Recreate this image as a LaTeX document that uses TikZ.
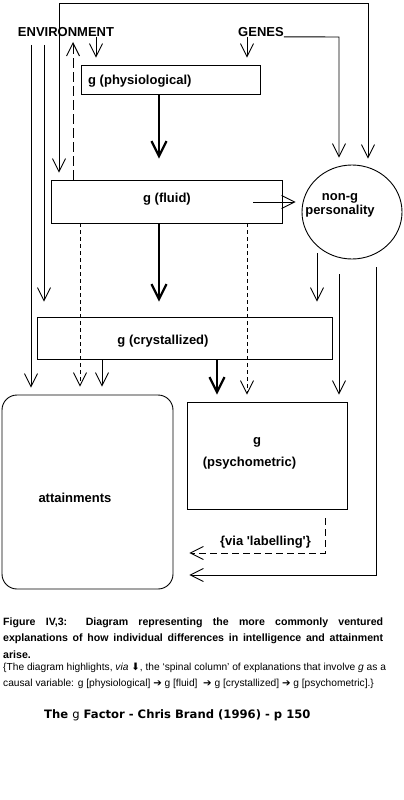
\documentclass[tikz,border=0pt]{standalone}
\usepackage{fontspec}
\setmainfont{Liberation Sans}
\newfontfamily\dejavu{DejaVu Sans}
\usetikzlibrary{arrows.meta,shapes.geometric}
\begin{document}
\begin{tikzpicture}[x=1pt,y=-1pt,
  lbl/.style={font=\fontsize{13}{14}\selectfont\bfseries, inner sep=0pt},
  box/.style={draw, line width=0.9pt, inner sep=0pt},
  arr/.style={line width=0.9pt, -{Straight Barb[length=13pt,width=13pt]}},
  arrtwo/.style={line width=0.9pt, {Straight Barb[length=13pt,width=13pt]}-{Straight Barb[length=13pt,width=13pt]}},
  tarr/.style={line width=2.2pt, -{Straight Barb[length=15pt,width=15pt]}},
  dsh/.style={dash pattern=on 4pt off 3pt},
  capb/.style={anchor=west, inner sep=0pt, font=\fontsize{10.6}{11}\selectfont\bfseries},
  capr/.style={anchor=west, inner sep=0pt, font=\fontsize{10.2}{11}\selectfont},
]
\useasboundingbox (0,0) rectangle (404,800);

% nodes
\node[lbl] (env) at (66,32) {ENVIRONMENT};
\node[lbl] (genes) at (261,32) {GENES};
\node[box, minimum width=179pt, minimum height=29pt] (phys) at (170.5,79.5) {};
\node[lbl, anchor=west] (physt) at (88,81) {g (physiological)};
\node[box, minimum width=231pt, minimum height=43pt] (fluid) at (166.5,201.5) {};
\node[lbl] (fluidt) at (167,199) {g (fluid)};
\node[draw, ellipse, line width=0.9pt, minimum width=100pt, minimum height=94pt, inner sep=0pt] (pers) at (352,212) {};
\node[lbl, align=center] (perst) at (340,205) {non-g\\personality};
\node[box, minimum width=295pt, minimum height=42pt] (cryst) at (184.5,338) {};
\node[lbl] (crystt) at (163,341) {g (crystallized)};
\node[box, rounded corners=15pt, minimum width=171pt, minimum height=194pt] (attain) at (87.5,492) {};
\node[lbl] (attaint) at (75,498) {attainments};
\node[box, minimum width=160pt, minimum height=107pt] (psy) at (267,455.5) {};
\node[lbl] (psyg) at (257,442) {g};
\node[lbl] (psyt) at (249.5,463) {(psychometric)};
\node[lbl] (via) at (265.5,542) {\{via \textquotesingle labelling\textquotesingle\}};

% column coordinates
\coordinate (cA) at (31,45);
\coordinate (cB) at (44,45);
\coordinate (topL) at (59,3);
\coordinate (topR) at (368,3);
\coordinate (cD) at (73,42);
\coordinate (cE) at (96,0);
\coordinate (cF) at (247,0);
\coordinate (cG) at (80,0);
\coordinate (sp) at (159,0);
\coordinate (cH) at (102,0);
\coordinate (cI) at (217,0);
\coordinate (g2) at (339,37);
\coordinate (fp) at (253,202);
\coordinate (p1) at (317,253);
\coordinate (p2) at (339,274);
\coordinate (p3) at (376,267);
\coordinate (p3b) at (376,575);
\coordinate (q) at (325,553);

% connectors
\draw[arrtwo, shorten <=7pt, shorten >=6pt] (fluid.north -| topL) -- (topL) -- (topR) -- (pers.north -| topR);
\draw[arr, shorten >=15pt] (cB) -- (cB |- cryst.north);
\draw[arr, shorten >=7pt] (cA) -- (cA |- attain.north);
\draw[arr, dash pattern=on 10pt off 4pt] (fluid.north -| cD) -- (cD);
\draw[arr, shorten >=7pt] (env.south -| cE) -- (phys.north -| cE);
\draw[arr, shorten >=7pt] (genes.south -| cF) -- (phys.north -| cF);
\draw[arr, shorten >=7pt] (genes.south east) -- (g2) -- (g2 |- pers.north);
\draw[tarr, shorten >=21pt] (phys.south -| sp) -- (fluid.north -| sp);
\draw[arr, shorten >=6pt] (fp) -- (fp -| pers.west);
\draw[arr, dsh, shorten >=8pt] (fluid.south -| cG) -- (attain.north -| cG);
\draw[arr, dsh, shorten >=7pt] (fluid.south -| cF) -- (psy.north -| cF);
\draw[tarr, shorten >=15pt] (fluid.south -| sp) -- (cryst.north -| sp);
\draw[arr, shorten >=15pt] (p1) -- (p1 |- cryst.north);
\draw[arr, shorten >=8pt] (cryst.south -| cH) -- (attain.north -| cH);
\draw[tarr, shorten >=7pt] (cryst.south -| cI) -- (psy.north -| cI);
\draw[arr, shorten >=7pt] (p2) -- (p2 |- psy.north);
\draw[arr, shorten >=16pt] (p3) -- (p3b) -- (p3b -| attain.east);
\draw[arr, dash pattern=on 7pt off 4pt, shorten <=9pt, shorten >=16pt] (psy.south -| q) -- (q) -- (q -| attain.east);

% caption
\node[capb] (cap1) at (3,623) {\makebox[380pt][s]{Figure IV,3: Diagram representing the more commonly ventured}};
\node[capb] (cap2) at (3,639) {\makebox[380pt][s]{explanations of how individual differences in intelligence and attainment}};
\node[capb] (cap3) at (3,655) {arise.};
\node[capr] (cap4) at (3,668) {\{The diagram highlights, \textit{via} {\dejavu ⬇}, the ‘spinal column’ of explanations that involve \textit{g} as a};
\node[capr] (cap5) at (3,684) {causal variable: g [physiological] {\dejavu ➔} g [fluid] \ {\dejavu ➔} g [crystallized] {\dejavu ➔} g [psychometric].\}};
\node[anchor=west, inner sep=0pt, font=\dejavu\fontsize{11.6}{13}\selectfont\bfseries] (src) at (44,715) {The {\mdseries g} Factor - Chris Brand (1996) - p 150};
\end{tikzpicture}
\end{document}
